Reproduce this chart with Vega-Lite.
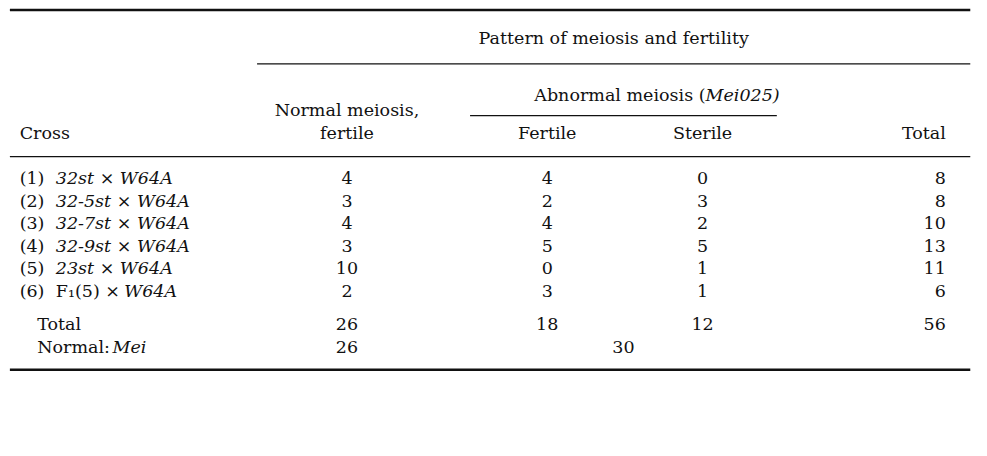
{
  "$schema": "https://vega.github.io/schema/vega-lite/v6.json",
  "width": 987,
  "height": 456,
  "autosize": {"type": "fit", "contains": "padding"},
  "config": {"view": {"stroke": null}, "text": {"font": "DejaVu Serif", "fontSize": 17.5, "color": "#111111", "baseline": "middle"}},
  "datasets": {
    "rules": [
      {"x": 0.5, "x2": 98.8, "y": 1.1, "w": "thick"},
      {"x": 25.8, "x2": 98.8, "y": 13.2, "w": "thin"},
      {"x": 47.6, "x2": 79, "y": 24.8, "w": "thin"},
      {"x": 0.5, "x2": 98.8, "y": 34, "w": "thin"},
      {"x": 0.5, "x2": 98.8, "y": 81.8, "w": "thick"}
    ],
    "plainLeft": [
      {"x": 1.5, "y": 28.9, "t": "Cross"},
      {"x": 1.5, "y": 39, "t": "(1)"},
      {"x": 1.5, "y": 44.1, "t": "(2)"},
      {"x": 1.5, "y": 49.1, "t": "(3)"},
      {"x": 1.5, "y": 54.2, "t": "(4)"},
      {"x": 1.5, "y": 59.2, "t": "(5)"},
      {"x": 1.5, "y": 64.3, "t": "(6)"},
      {"x": 5.2, "y": 64.3, "t": "F\u2081(5) \u00d7"},
      {"x": 3.3, "y": 71.7, "t": "Total"},
      {"x": 3.3, "y": 76.8, "t": "Normal:"}
    ],
    "italicLeft": [
      {"x": 5.2, "y": 39, "t": "32st \u00d7 W64A"},
      {"x": 5.2, "y": 44.1, "t": "32-5st \u00d7 W64A"},
      {"x": 5.2, "y": 49.1, "t": "32-7st \u00d7 W64A"},
      {"x": 5.2, "y": 54.2, "t": "32-9st \u00d7 W64A"},
      {"x": 5.2, "y": 59.2, "t": "23st \u00d7 W64A"},
      {"x": 12.2, "y": 64.3, "t": "W64A"},
      {"x": 11.0, "y": 76.8, "t": "Mei"},
      {"x": 71.7, "y": 20.4, "t": "Mei025)"}
    ],
    "plainRight": [
      {"x": 71.7, "y": 20.4, "t": "Abnormal meiosis ("},
      {"x": 96.3, "y": 28.9, "t": "Total"},
      {"x": 96.3, "y": 39, "t": "8"},
      {"x": 96.3, "y": 44.1, "t": "8"},
      {"x": 96.3, "y": 49.1, "t": "10"},
      {"x": 96.3, "y": 54.2, "t": "13"},
      {"x": 96.3, "y": 59.2, "t": "11"},
      {"x": 96.3, "y": 64.3, "t": "6"},
      {"x": 96.3, "y": 71.7, "t": "56"}
    ],
    "plainCenter": [
      {"x": 62.3, "y": 7.7, "t": "Pattern of meiosis and fertility"},
      {"x": 35, "y": 23.7, "t": "Normal meiosis,"},
      {"x": 35, "y": 28.9, "t": "fertile"},
      {"x": 55.5, "y": 28.9, "t": "Fertile"},
      {"x": 71.4, "y": 28.9, "t": "Sterile"},
      {"x": 35, "y": 39, "t": "4"}, {"x": 55.5, "y": 39, "t": "4"}, {"x": 71.4, "y": 39, "t": "0"},
      {"x": 35, "y": 44.1, "t": "3"}, {"x": 55.5, "y": 44.1, "t": "2"}, {"x": 71.4, "y": 44.1, "t": "3"},
      {"x": 35, "y": 49.1, "t": "4"}, {"x": 55.5, "y": 49.1, "t": "4"}, {"x": 71.4, "y": 49.1, "t": "2"},
      {"x": 35, "y": 54.2, "t": "3"}, {"x": 55.5, "y": 54.2, "t": "5"}, {"x": 71.4, "y": 54.2, "t": "5"},
      {"x": 35, "y": 59.2, "t": "10"}, {"x": 55.5, "y": 59.2, "t": "0"}, {"x": 71.4, "y": 59.2, "t": "1"},
      {"x": 35, "y": 64.3, "t": "2"}, {"x": 55.5, "y": 64.3, "t": "3"}, {"x": 71.4, "y": 64.3, "t": "1"},
      {"x": 35, "y": 71.7, "t": "26"}, {"x": 55.5, "y": 71.7, "t": "18"}, {"x": 71.4, "y": 71.7, "t": "12"},
      {"x": 35, "y": 76.8, "t": "26"}, {"x": 63.3, "y": 76.8, "t": "30"}
    ]
  },
  "encoding": {
    "x": {"field": "x", "type": "quantitative", "scale": {"domain": [0, 100], "nice": false, "zero": false}, "axis": null},
    "y": {"field": "y", "type": "quantitative", "scale": {"domain": [0, 100], "reverse": true, "nice": false, "zero": false}, "axis": null}
  },
  "layer": [
    {"data": {"name": "rules"}, "mark": {"type": "rule", "color": "#111111"},
     "encoding": {"x2": {"field": "x2"},
       "strokeWidth": {"field": "w", "type": "nominal", "scale": {"domain": ["thick", "thin"], "range": [2.5, 1.2]}, "legend": null}}},
    {"data": {"name": "plainLeft"}, "mark": {"type": "text", "align": "left"}, "encoding": {"text": {"field": "t"}}},
    {"data": {"name": "italicLeft"}, "mark": {"type": "text", "align": "left", "fontStyle": "italic"}, "encoding": {"text": {"field": "t"}}},
    {"data": {"name": "plainRight"}, "mark": {"type": "text", "align": "right"}, "encoding": {"text": {"field": "t"}}},
    {"data": {"name": "plainCenter"}, "mark": {"type": "text", "align": "center"}, "encoding": {"text": {"field": "t"}}}
  ]
}
